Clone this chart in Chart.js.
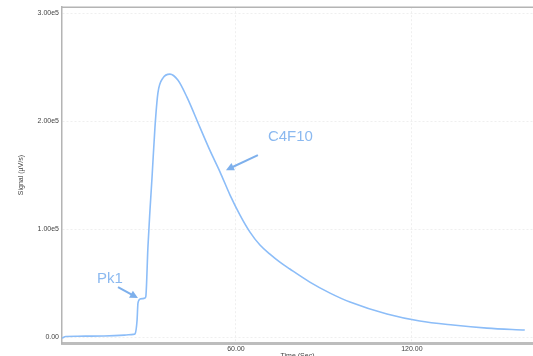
<!DOCTYPE html>
<html>
<head>
<meta charset="utf-8">
<script src="https://cdn.jsdelivr.net/npm/chart.js@4/dist/chart.umd.min.js"></script>
<style>
  html, body { margin: 0; padding: 0; background: #fff; }
  #chart { display: block; }
</style>
</head>
<body>
<canvas id="chart" width="533" height="356"></canvas>
<script>
// ---- data
const times  = [0.7, 2, 6, 15, 22, 25, 25.6, 26.3, 26.6, 27.3, 28.3, 29.0, 29.3, 30.0, 30.7, 31.4, 32.4, 33.4, 35.1, 37.5, 40.2, 43.3, 47.7, 51.1, 54.6, 58.0, 61.4, 64.8, 68.2, 71.6, 75.0, 78.4, 85.2, 92.1, 98.9, 111.5, 122.7, 134.0, 145.6, 158.5];
const signal = [-900, 500, 800, 1000, 1800, 2500, 3000, 15700, 31500, 35200, 35600, 36100, 38000, 83300, 117600, 148000, 194400, 225900, 239800, 243500, 238000, 222200, 194400, 173100, 152800, 131500, 113000, 97200, 85200, 76900, 69400, 63000, 50900, 40700, 32400, 21300, 14800, 11100, 8300, 6500];
const xTicks = [60, 120];
const yTicks = [0, 100000, 200000, 300000];

// annotations: [text, textX, textY, arrowFromX, arrowFromY, arrowToX, arrowToY]
const notes = [
    ['C4F10', 70.9, 185000, 67.5, 168500, 56.6, 154600],
    ['Pk1',   12.6,  53700, 19.8,  46300, 26.6,  36100]
];

const lineColor = '#8cbdf8';
const noteColor = '#8bb9f0';
const gridColor = '#efefef';

// ---- plugins
const frame = {
    id: 'frame',
    afterDraw(chart) {
        const ctx = chart.ctx, a = chart.chartArea;
        ctx.save();
        ctx.strokeStyle = '#b4b4b4';
        ctx.lineWidth = 1.5;
        ctx.beginPath();
        ctx.moveTo(a.left, a.top);
        ctx.lineTo(a.right, a.top);
        ctx.stroke();
        ctx.restore();
    }
};

const arrows = {
    id: 'arrows',
    afterDatasetsDraw(chart) {
        const ctx = chart.ctx, xs = chart.scales.x, ys = chart.scales.y;
        ctx.save();
        notes.forEach(n => {
            const tx = xs.getPixelForValue(n[1]), ty = ys.getPixelForValue(n[2]);
            ctx.fillStyle = noteColor;
            ctx.font = '15px "Helvetica", "Liberation Sans", Arial, sans-serif';
            ctx.textAlign = 'left';
            ctx.textBaseline = 'middle';
            ctx.fillText(n[0], tx, ty);

            const x1 = xs.getPixelForValue(n[3]), y1 = ys.getPixelForValue(n[4]);
            const x2 = xs.getPixelForValue(n[5]), y2 = ys.getPixelForValue(n[6]);
            const ang = Math.atan2(y2 - y1, x2 - x1);
            ctx.strokeStyle = '#7eb0ec';
            ctx.fillStyle = '#7eb0ec';
            ctx.lineWidth = 2;
            ctx.beginPath();
            ctx.moveTo(x1, y1);
            ctx.lineTo(x2 - 5 * Math.cos(ang), y2 - 5 * Math.sin(ang));
            ctx.stroke();
            ctx.beginPath();
            ctx.moveTo(x2, y2);
            ctx.lineTo(x2 - 8 * Math.cos(ang) + 4 * Math.sin(ang), y2 - 8 * Math.sin(ang) - 4 * Math.cos(ang));
            ctx.lineTo(x2 - 8 * Math.cos(ang) - 4 * Math.sin(ang), y2 - 8 * Math.sin(ang) + 4 * Math.cos(ang));
            ctx.closePath();
            ctx.fill();
        });
        ctx.restore();
    }
};

// ---- chart
const tickFont = { family: '"Helvetica", "Liberation Sans", Arial, sans-serif', size: 7 };
const ctx = document.getElementById('chart').getContext('2d');
const chart = new Chart(ctx, {
    type: 'line',
    data: {
        datasets: [{
            data: times.map((t, i) => ({ x: t, y: signal[i] })),
            borderColor: lineColor,
            borderWidth: 1.6,
            pointRadius: 0,
            cubicInterpolationMode: 'monotone',
            fill: false
        }]
    },
    options: {
        responsive: false,
        animation: false,
        layout: { padding: { top: 7, right: 0, left: 0, bottom: 0 } },
        plugins: { legend: { display: false }, tooltip: { enabled: false } },
        scales: {
            x: {
                type: 'linear',
                min: 0.7,
                max: 161.3,
                afterBuildTicks: s => { s.ticks = xTicks.map(v => ({ value: v })); },
                afterFit: s => { s.height = 13; },
                ticks: {
                    font: tickFont,
                    color: '#444',
                    padding: 2,
                    maxRotation: 0,
                    callback: v => v.toFixed(2)
                },
                grid: { color: gridColor, drawTicks: false, tickLength: 0 },
                border: { color: '#bdbdbd', width: 3, dash: [2, 2] },
                title: {
                    display: true,
                    text: 'Time (Sec)',
                    font: tickFont,
                    color: '#444',
                    padding: { top: 0, bottom: -4 }
                }
            },
            y: {
                min: -5500,
                max: 305500,
                afterBuildTicks: s => { s.ticks = yTicks.map(v => ({ value: v })); },
                afterFit: s => { s.width = 62; },
                ticks: {
                    font: tickFont,
                    color: '#444',
                    padding: 3,
                    callback: v => v === 0 ? '0.00' : v.toExponential(2).replace('e+', 'e')
                },
                grid: { color: gridColor, drawTicks: false, tickLength: 0 },
                border: { color: '#b4b4b4', width: 1.5, dash: [2, 2] },
                title: {
                    display: true,
                    text: 'Signal (µV/s)',
                    font: tickFont,
                    color: '#444',
                    padding: { top: 17, bottom: 0 }
                }
            }
        }
    },
    plugins: [frame, arrows]
});
</script>
</body>
</html>
